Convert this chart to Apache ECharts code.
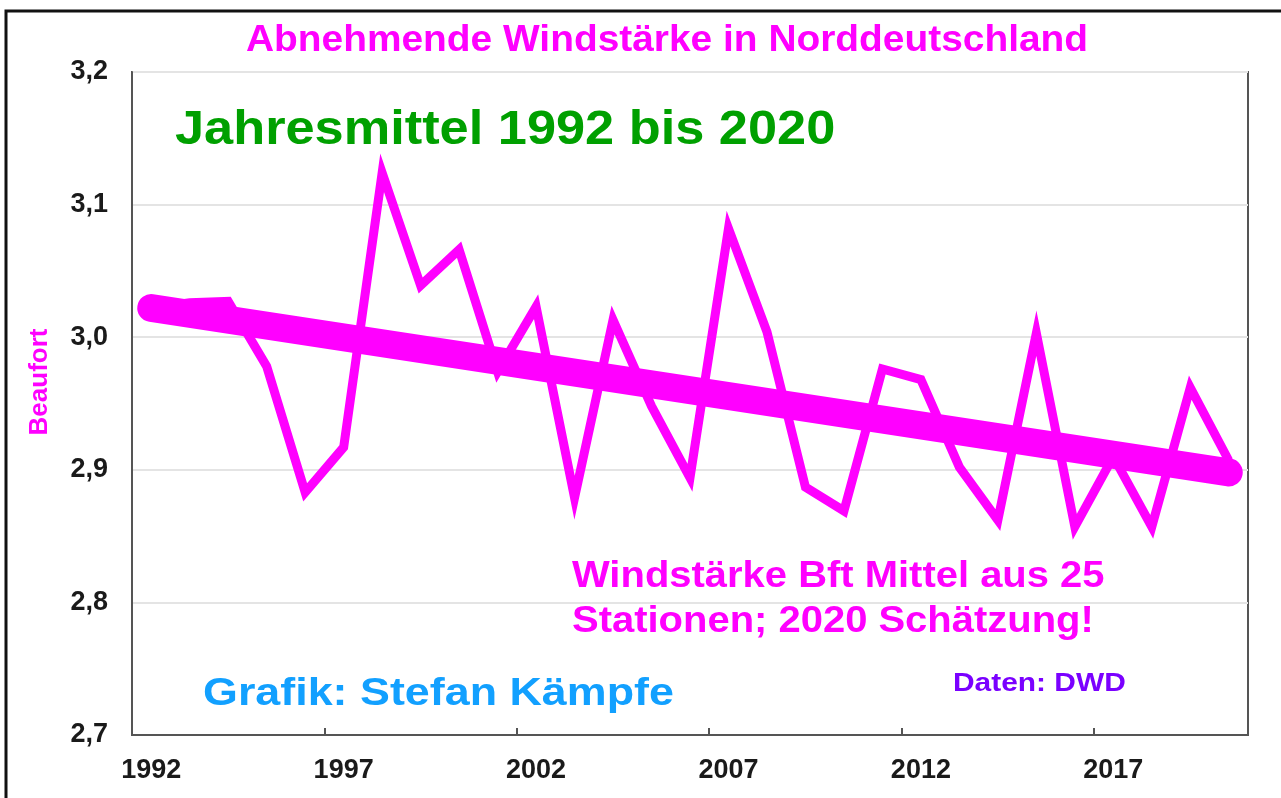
<!DOCTYPE html>
<html>
<head>
<meta charset="utf-8">
<script src="https://cdn.jsdelivr.net/npm/echarts@6/dist/echarts.min.js"></script>
<style>
html,body{margin:0;padding:0;background:#fff;}
#chart{width:1281px;height:798px;}
</style>
</head>
<body>
<div id="chart"></div>
<script>
// ---- data ----
const years = ['1992','1993','1994','1995','1996','1997','1998','1999','2000','2001',
               '2002','2003','2004','2005','2006','2007','2008','2009','2010','2011',
               '2012','2013','2014','2015','2016','2017','2018','2019','2020'];
const windBft = [3.022, 3.026, 3.027, 2.978, 2.883, 2.917, 3.124, 3.039, 3.066, 2.974,
                 3.023, 2.879, 3.013, 2.948, 2.894, 3.082, 3.004, 2.887, 2.869, 2.976,
                 2.968, 2.902, 2.862, 3.003, 2.857, 2.910, 2.857, 2.962, 2.907];
const trendYears = ['1992', '2020'];
const trendBft = [3.022, 2.898];
const yTicks = { min: 2.7, max: 3.2, step: 0.1 };

const titleText = 'Abnehmende Windstärke in Norddeutschland';
const subText = 'Jahresmittel 1992 bis 2020';
const noteLine1 = 'Windstärke Bft Mittel aus 25';
const noteLine2 = 'Stationen; 2020 Schätzung!';
const creditText = 'Grafik: Stefan Kämpfe';
const sourceText = 'Daten: DWD';
const yName = 'Beaufort';

const FONT = '"Liberation Sans", Arial, Helvetica, sans-serif';
const MAG = '#ff00ff';

function txt(text, x, y, size, color, scaleX, align, rot) {
  return {
    type: 'text', x: x, y: y, scaleX: scaleX || 1, rotation: rot || 0, z: 100,
    style: {
      text: text, fill: color,
      font: 'bold ' + size + 'px ' + FONT,
      textAlign: align || 'left', textVerticalAlign: 'middle',
      align: align || 'left', verticalAlign: 'middle'
    }
  };
}

const chart = echarts.init(document.getElementById('chart'), null, { renderer: 'canvas' });
chart.setOption({
  animation: false,
  backgroundColor: '#fff',
  grid: { left: 132, right: 33, top: 72, bottom: 63, show: true, borderColor: '#555', borderWidth: 2, containLabel: false },
  xAxis: {
    type: 'category', data: years, boundaryGap: true,
    axisLine: { show: true, lineStyle: { color: '#555', width: 2 } },
    axisTick: { show: true, interval: 4, inside: true, length: 7, lineStyle: { color: '#555', width: 2 } },
    axisLabel: { interval: 4, margin: 22, color: '#1a1a1a', fontSize: 27, fontWeight: 'bold', fontFamily: FONT },
    splitLine: { show: false }
  },
  yAxis: {
    type: 'value', min: yTicks.min, max: yTicks.max, interval: yTicks.step,
    axisLine: { show: true, lineStyle: { color: '#555', width: 2 } },
    axisTick: { show: false },
    axisLabel: { margin: 24, color: '#1a1a1a', fontSize: 27, fontWeight: 'bold', fontFamily: FONT,
      formatter: v => v.toFixed(1).replace('.', ',') },
    splitLine: { show: true, lineStyle: { color: '#e4e4e4', width: 2 } }
  },
  series: [
    {
      name: 'Windstärke', type: 'line', data: windBft, showSymbol: false, symbol: 'none',
      lineStyle: { color: MAG, width: 9, join: 'miter', miterLimit: 10 }, z: 3
    },
    {
      name: 'Trend', type: 'line', data: trendYears.map((y, i) => [y, trendBft[i]]), showSymbol: false, symbol: 'none',
      lineStyle: { color: MAG, width: 28, cap: 'round' }, z: 4
    }
  ],
  graphic: [
    { type: 'polyline', z: 100, shape: { points: [[6, 800], [6, 11], [1290, 11]] }, style: { stroke: '#111', lineWidth: 3, fill: null } },
    txt(titleText, 667, 41, 36, MAG, 1.08, 'center'),
    txt(subText, 175, 131, 48, '#00a000', 1.09, 'left'),
    txt(noteLine1, 572, 577, 37, MAG, 1.08, 'left'),
    txt(noteLine2, 572, 622, 37, MAG, 1.08, 'left'),
    txt(creditText, 203, 695, 38, '#12a0ff', 1.18, 'left'),
    txt(sourceText, 953, 684, 26, '#7a00ff', 1.15, 'left'),
    txt(yName, 40, 382, 26, MAG, 1, 'center', Math.PI / 2)
  ]
});
</script>
</body>
</html>
